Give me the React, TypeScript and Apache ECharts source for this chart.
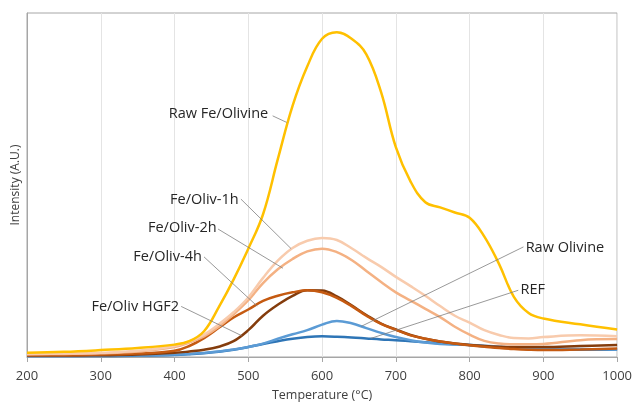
import React, { useEffect, useRef } from "react";
import * as echarts from "echarts";

const temps = [200, 250, 300, 350, 400, 420, 440, 460, 480, 500, 520, 540, 560, 580, 600, 620, 640, 660, 680, 700, 720, 740, 760, 780, 800, 820, 840, 860, 880, 900, 950, 1000];

const rawFeOlivine = [1.2, 1.5, 2.0, 2.6, 3.6, 4.6, 7.5, 14.5, 22.5, 31.5, 41.5, 57.5, 73, 84.5, 92.5, 94.4, 92.5, 88, 77, 61, 51, 45, 43.5, 42, 40.5, 35, 27, 17.5, 12.8, 11.2, 9.5, 8];
const feOliv1h = [0.9, 1.0, 1.2, 1.8, 3.2, 4.5, 6.5, 9.5, 13, 17.3, 23, 28, 31.7, 33.8, 34.6, 34, 31.6, 28.8, 26.2, 23.3, 20.6, 17.8, 14.8, 12, 10, 7.8, 6.4, 5.5, 5.4, 5.8, 6.3, 6];
const feOliv2h = [0.8, 0.9, 1.1, 1.6, 2.9, 4.2, 6, 8.8, 12.4, 16.5, 21.5, 25.5, 28.5, 30.7, 31.5, 30.5, 28.2, 25, 21.8, 18.8, 16.4, 14, 11.6, 8.8, 6.5, 4.7, 3.9, 3.7, 3.7, 3.8, 4.9, 5.2];
const feOliv4h = [0.5, 0.5, 0.7, 1.0, 1.8, 3.2, 5.5, 8.5, 11.5, 13.8, 16.3, 17.8, 18.8, 19.4, 18.8, 17.2, 14.8, 12, 9.6, 7.9, 6.3, 5.3, 4.5, 3.9, 3.4, 3.0, 2.6, 2.3, 2.1, 2.0, 2.2, 2.5];
const feOlivHGF2 = [0.4, 0.4, 0.5, 0.7, 1.2, 1.6, 2.1, 3, 4.6, 7.8, 12, 15.2, 17.8, 19.4, 19.3, 17.6, 15, 12.2, 9.7, 8, 6.4, 5.3, 4.5, 3.9, 3.5, 3.2, 3.0, 2.9, 2.9, 2.9, 3.2, 3.5];
const rawOlivine = [0.3, 0.3, 0.4, 0.5, 0.7, 0.9, 1.2, 1.6, 2.2, 2.9, 3.9, 5.3, 6.6, 7.8, 9.4, 10.5, 9.8, 8.4, 7, 5.8, 4.9, 4.2, 3.8, 3.6, 3.5, 3.3, 3.0, 2.7, 2.5, 2.4, 2.3, 2.2];
const ref = [0.3, 0.3, 0.3, 0.4, 0.6, 0.8, 1.1, 1.5, 2.1, 2.9, 3.8, 4.6, 5.3, 5.8, 6, 5.9, 5.7, 5.4, 5.1, 4.9, 4.6, 4.3, 4.0, 3.7, 3.5, 3.1, 2.8, 2.5, 2.3, 2.1, 2.1, 2.2];

const seriesDefs = [
  { name: "REF", data: ref, color: "#2E75B6" },
  { name: "Raw Olivine", data: rawOlivine, color: "#5B9BD5" },
  { name: "Fe/Oliv HGF2", data: feOlivHGF2, color: "#843C0C" },
  { name: "Fe/Oliv-4h", data: feOliv4h, color: "#C55A11" },
  { name: "Fe/Oliv-2h", data: feOliv2h, color: "#F4B183" },
  { name: "Fe/Oliv-1h", data: feOliv1h, color: "#F8CBAD" },
  { name: "Raw Fe/Olivine", data: rawFeOlivine, color: "#FFC000" },
];

const annotations = [
  { text: "Raw Fe/Olivine", at: [527, 71], from: [533, 70.1], to: [552, 68.2], align: "right" },
  { text: "Fe/Oliv-1h", at: [487, 46.2], from: [490, 45.9], to: [558, 31.5], align: "right" },
  { text: "Fe/Oliv-2h", at: [457, 37.8], from: [459, 37.2], to: [547, 25.8], align: "right" },
  { text: "Fe/Oliv-4h", at: [437, 29.4], from: [440, 29.1], to: [512, 14.8], align: "right" },
  { text: "Fe/Oliv HGF2", at: [406, 15], from: [409, 14.7], to: [491, 6.2], align: "right" },
  { text: "Raw Olivine", at: [876, 32], from: [873, 32], to: [653, 8.9], align: "left" },
  { text: "REF", at: [869, 20], from: [866, 19.4], to: [666, 5.4], align: "left" },
];

export default function App() {
  const ref1 = useRef<HTMLDivElement>(null);
  useEffect(() => {
    if (!ref1.current) return;
    const chart = echarts.init(ref1.current, null, { renderer: "svg" });
    const font = "'Open Sans', 'Noto Sans', sans-serif";
    chart.setOption({
      animation: false,
      grid: { left: 27, right: 15.5, top: 13, bottom: 46, show: true, borderColor: "#a6a6a6", borderWidth: 1 },
      xAxis: {
        type: "value",
        min: 200,
        max: 1000,
        interval: 100,
        name: "Temperature (°C)",
        nameLocation: "middle",
        nameGap: 31,
        nameTextStyle: { fontFamily: font, fontSize: 12.5, color: "#404040" },
        axisLine: { show: true, lineStyle: { color: "#a6a6a6" } },
        axisTick: { show: true, length: 5, lineStyle: { color: "#a6a6a6" } },
        axisLabel: { fontFamily: font, fontSize: 13, color: "#404040", margin: 11, formatter: (v: number) => String(v) },
        splitLine: { show: true, lineStyle: { color: "#e4e4e4", width: 1 } },
      },
      yAxis: {
        type: "value",
        min: 0,
        max: 100,
        name: "Intensity (A.U.)",
        nameLocation: "middle",
        nameGap: 7,
        nameTextStyle: { fontFamily: font, fontSize: 12, color: "#404040" },
        axisLine: { show: true, lineStyle: { color: "#a6a6a6" } },
        axisTick: { show: false },
        axisLabel: { show: false },
        splitLine: { show: false },
      },
      series: seriesDefs.map((s) => ({
        type: "line",
        name: s.name,
        data: temps.map((t, i) => [t, s.data[i]]),
        smooth: 0.4,
        showSymbol: false,
        lineStyle: { color: s.color, width: 2.5 },
        itemStyle: { color: s.color },
      })),
    });

    const px = (p: number[]) => chart.convertToPixel({ xAxisIndex: 0, yAxisIndex: 0 }, p) as number[];
    const graphics: any[] = [];
    annotations.forEach((a) => {
      const at = px(a.at);
      const f = px(a.from);
      const t = px(a.to);
      graphics.push({
        type: "line",
        shape: { x1: f[0], y1: f[1], x2: t[0], y2: t[1] },
        style: { stroke: "#7f7f7f", lineWidth: 0.8 },
        z: 100,
      });
      graphics.push({
        type: "text",
        x: at[0],
        y: at[1],
        style: {
          text: a.text,
          fill: "#262626",
          font: `14.5px ${font}`,
          align: a.align,
          verticalAlign: "middle",
        },
        z: 101,
      });
    });
    chart.setOption({ graphic: graphics });
    return () => chart.dispose();
  }, []);
  return <div ref={ref1} style={{ position: "fixed", left: 0, top: 0, width: 635, height: 406 }} />;
}
